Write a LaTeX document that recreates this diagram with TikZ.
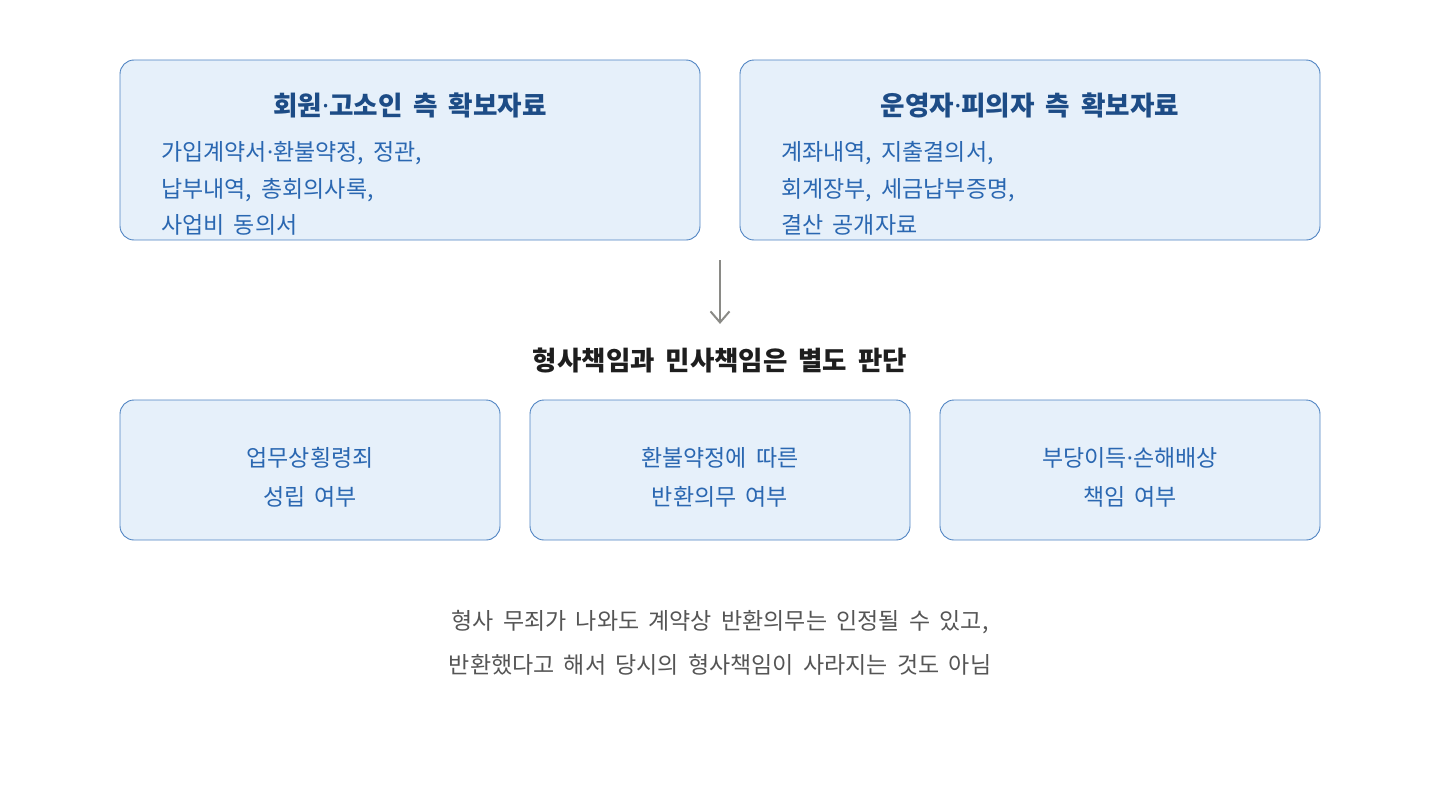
\documentclass[tikz,border=0pt]{standalone}
\usepackage{fontspec}
\setmainfont[WordSpace=1.8]{Noto Sans CJK KR}
\newfontfamily\dotfont{Noto Sans}
\newcommand{\mdot}{{\dotfont ·}}
\usetikzlibrary{arrows.meta,positioning}

\definecolor{boxfill}{HTML}{E6F0FA}
\definecolor{boxline}{HTML}{4F83C2}
\definecolor{titleblue}{HTML}{1D4C86}
\definecolor{bodyblue}{HTML}{2A67B1}
\definecolor{headdark}{HTML}{1E1E1E}
\definecolor{notegray}{HTML}{555555}
\definecolor{arrowgray}{HTML}{8A8A86}

\begin{document}
\begin{tikzpicture}[
            x = 1pt, y = -1pt,
            srcbox/.style = {draw = boxline, fill = boxfill, line width = 0.9pt,
                             rounded corners = 14pt, minimum width = 580pt, minimum height = 180pt},
            judgebox/.style = {draw = boxline, fill = boxfill, line width = 0.9pt,
                               rounded corners = 14pt, minimum width = 380pt, minimum height = 140pt},
            judgetext/.style = {align = center, text = bodyblue,
                                font = \fontsize{23pt}{39pt}\selectfont},
            srctitle/.style = {text = titleblue, font = \fontsize{26.6pt}{30pt}\selectfont\bfseries},
            srcline/.style = {anchor = base west, inner sep = 0pt, text = bodyblue,
                              font = \fontsize{23pt}{27pt}\selectfont},
            flow/.style = {draw = arrowgray, line width = 2pt,
                           -{Straight Barb[length = 11pt, width = 19pt, line width = 2pt]}}
            ]
            \useasboundingbox (0,0) rectangle (1440,800);

            % source material, two sides
            \node[srcbox] (leftbox) at (410,150) {};
            \node[srctitle] (lefttitle) at (410,105) {회원\mdot 고소인 측 확보자료};
            \node[srcline] (left1) at (161,160) {가입계약서\mdot 환불약정, 정관,};
            \node[srcline] (left2) at (161,197) {납부내역, 총회의사록,};
            \node[srcline] (left3) at (161,233) {사업비 동의서};

            \node[srcbox] (rightbox) at (1030,150) {};
            \node[srctitle] (righttitle) at (1030,105) {운영자\mdot 피의자 측 확보자료};
            \node[srcline] (right1) at (781,160) {계좌내역, 지출결의서,};
            \node[srcline] (right2) at (781,197) {회계장부, 세금납부증명,};
            \node[srcline] (right3) at (781,233) {결산 공개자료};

            % judgement
            \coordinate (split) at (720,260);
            \node[text = headdark, font = \fontsize{26.5pt}{30pt}\selectfont\bfseries]
                 (verdict) at (720,360) {형사책임과 민사책임은 별도 판단};
            \draw[flow, shorten > = 20pt] (split) -- (verdict.north);

            \node[judgebox] (embezzle) at (310,470) {};
            \node[judgebox] (refund) at (720,470) {};
            \node[judgebox] (damages) at (1130,470) {};
            \node[judgetext, yshift = -7pt] (embezzletext) at (embezzle) {업무상횡령죄\\성립 여부};
            \node[judgetext, yshift = -7pt] (refundtext) at (refund) {환불약정에 따른\\반환의무 여부};
            \node[judgetext, yshift = -7pt] (damagestext) at (damages) {부당이득\mdot 손해배상\\책임 여부};

            \node[align = center, text = notegray, font = \fontsize{23pt}{44pt}\selectfont]
                 (note) at (720,643) {형사 무죄가 나와도 계약상 반환의무는 인정될 수 있고,\\반환했다고 해서 당시의 형사책임이 사라지는 것도 아님};
          \end{tikzpicture}
\end{document}
